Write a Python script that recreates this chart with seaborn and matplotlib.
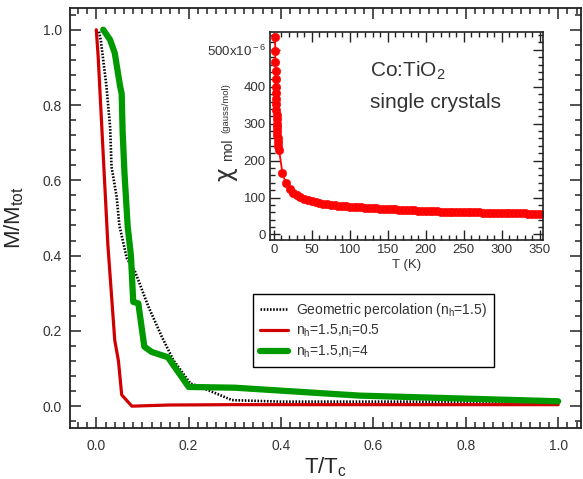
import numpy as np
import matplotlib
matplotlib.use("Agg")
import matplotlib.pyplot as plt
from matplotlib.ticker import MultipleLocator, FixedLocator, FixedFormatter
import seaborn as sns

sns.set_style("ticks")
plt.rcParams['font.family'] = ['Liberation Sans', 'DejaVu Sans']
plt.rcParams['mathtext.fontset'] = 'custom'
plt.rcParams['mathtext.rm'] = 'Liberation Sans'
plt.rcParams['mathtext.it'] = 'Liberation Sans:italic'

# main panel: M/Mtot vs T/Tc
geo_x = [0.006, 0.010, 0.022, 0.030, 0.033, 0.044, 0.050, 0.062, 0.066, 0.084,
         0.113, 0.142, 0.167, 0.204, 0.222, 0.294, 0.40, 1.0]
geo_y = [0.995, 0.97, 0.85, 0.74, 0.636, 0.557, 0.48, 0.415, 0.393, 0.357,
         0.264, 0.184, 0.122, 0.060, 0.053, 0.016, 0.012, 0.012]

red_x = [0.0, 0.004, 0.012, 0.025, 0.040, 0.048, 0.055, 0.077, 0.157, 0.30, 0.50, 1.0]
red_y = [1.0, 0.93, 0.74, 0.43, 0.175, 0.12, 0.03, 0.0, 0.003, 0.004, 0.004, 0.004]

green_x = [0.015, 0.030, 0.040, 0.0515, 0.055, 0.057, 0.061, 0.068, 0.075, 0.080,
           0.091, 0.104, 0.120, 0.155, 0.200, 0.300, 0.570, 1.0]
green_y = [1.0, 0.973, 0.938, 0.85, 0.83, 0.73, 0.62, 0.477, 0.40, 0.277,
           0.273, 0.158, 0.144, 0.130, 0.051, 0.049, 0.028, 0.013]

# inset: chi_mol (x1e-6 gauss/mol) vs T (K)
chi_T = [1.8, 2.0, 2.2, 2.4, 2.6, 2.8, 3.0, 3.2, 3.4, 3.6, 3.8, 4.0, 4.2, 4.4, 4.6,
         4.8, 5.0, 5.5, 6.0, 7.0, 11.4, 15.8, 21,
         25, 30, 35, 40, 45, 50, 55, 60, 65, 70, 75, 80, 85, 90, 95, 100,
         105, 110, 115, 120, 125, 130, 135, 140, 145, 150, 155, 160, 165, 170,
         175, 180, 185, 190, 195, 200, 205, 210, 215, 220, 225, 230, 235, 240,
         245, 250, 255, 260, 265, 270, 275, 280, 285, 290, 295, 300, 305, 310,
         315, 320, 325, 330, 335, 340, 345, 350]
chi_val = [535, 498, 466, 443, 420, 400, 382, 367, 353, 337, 324, 312, 300, 290, 280,
           270, 260, 250, 240, 229, 167, 139, 122,
           113, 106, 101, 96, 92, 90, 87.5, 85.5, 83.5, 82, 80.5, 79, 78, 77, 76, 75.5,
           74.5, 73.5, 73, 72.5, 72, 71, 70.5, 70, 69.5, 69, 68.5, 68, 67.5, 67,
           66, 65.5, 65, 64.5, 64, 63.5, 63, 62.5, 62.5, 62, 62, 61.5, 61, 61,
           60.5, 60.5, 60, 60, 59.5, 59.5, 59, 59, 59, 58.5, 58.5, 58, 58, 57.5,
           57.5, 57.5, 57, 57, 56.5, 56.5, 56, 56]

fig = plt.figure(figsize=(5.83, 4.79), dpi=100)
ax = fig.add_axes([0.120, 0.1065, 0.877, 0.877])

sns.lineplot(x=geo_x, y=geo_y, ax=ax, color='black', lw=1.9,
             linestyle=(0, (0.6, 0.6)), label='Geometric percolation (n$_{\\rm h}$=1.5)')
sns.lineplot(x=red_x, y=red_y, ax=ax, color='#d00000', lw=2.3,
             label='n$_{\\rm h}$=1.5,n$_{\\rm i}$=0.5')
sns.lineplot(x=green_x, y=green_y, ax=ax, color='#009a00', lw=4.5,
             label='n$_{\\rm h}$=1.5,n$_{\\rm i}$=4')

ax.set_xlim(-0.057, 1.05)
ax.set_ylim(-0.058, 1.058)
ax.xaxis.set_major_locator(MultipleLocator(0.2))
ax.xaxis.set_minor_locator(MultipleLocator(0.02))
ax.yaxis.set_major_locator(MultipleLocator(0.2))
ax.yaxis.set_minor_locator(MultipleLocator(0.04))
ax.xaxis.set_major_formatter(plt.FormatStrFormatter('%.1f'))
ax.yaxis.set_major_formatter(plt.FormatStrFormatter('%.1f'))
ax.tick_params(which='both', direction='in', top=True, right=True, color='#222222', width=1.1)
ax.tick_params(which='major', length=8, labelsize=10, labelcolor='#333333')
ax.tick_params(which='minor', length=4)
ax.tick_params(axis='x', which='major', pad=8)
ax.tick_params(axis='y', which='major', pad=6)
for s in ax.spines.values():
    s.set_linewidth(1.3)
    s.set_color('#222222')
ax.set_xlabel('T/T$_{\\rm c}$', fontsize=16, labelpad=2)
ax.set_ylabel('M/M$_{\\rm tot}$', fontsize=16, labelpad=12)

leg = ax.legend(loc='upper left', bbox_to_anchor=(0.358, 0.319), borderaxespad=0,
                fontsize=10, frameon=True, fancybox=False, framealpha=1,
                edgecolor='black', handlelength=2.0, handletextpad=0.6,
                labelspacing=0.3, borderpad=0.5)
leg.get_frame().set_linewidth(1.0)
for t in leg.get_texts():
    t.set_color('#333333')

# inset
ins = fig.add_axes([0.463, 0.499, 0.468, 0.434])
sns.lineplot(x=chi_T, y=chi_val, ax=ins, color='#ff0000', lw=1.3, marker='o',
             markersize=6, markeredgecolor='#ff1010', markeredgewidth=0.5)
ins.set_xlim(-5, 354)
ins.set_ylim(-15, 548)
ins.xaxis.set_major_locator(MultipleLocator(50))
ins.xaxis.set_minor_locator(MultipleLocator(10))
ins.yaxis.set_major_locator(FixedLocator([0, 100, 200, 300, 400, 500]))
ins.yaxis.set_major_formatter(FixedFormatter(['0', '100', '200', '300', '400',
                                              '500x10$^{\\rm -6}$']))
ins.yaxis.set_minor_locator(MultipleLocator(20))
ins.tick_params(which='both', direction='in', top=True, right=True, color='#222222', width=1.0)
ins.tick_params(which='major', length=7, labelsize=9.5, labelcolor='#333333', pad=3)
ins.tick_params(which='minor', length=3.5)
for s in ins.spines.values():
    s.set_linewidth(1.2)
    s.set_color('#222222')
ins.set_xlabel('T (K)', fontsize=9.5, labelpad=2, color='#333333')
ins.set_ylabel('')
ins.text(-0.165, 0.318, 'χ', transform=ins.transAxes, rotation=90, fontsize=17,
         family='DejaVu Sans', ha='center', va='center', color='#333333')
ins.text(-0.152, 0.435, 'mol', transform=ins.transAxes, rotation=90, fontsize=10,
         ha='center', va='center', color='#333333')
ins.text(-0.160, 0.635, '(gauss/mol)', transform=ins.transAxes, rotation=90, fontsize=6.8,
         ha='center', va='center', color='#333333')
ins.text(0.366, 0.785, 'Co:TiO$_{\\rm 2}$', transform=ins.transAxes, fontsize=15,
         va='baseline', ha='left', color='#333333')
ins.text(0.366, 0.635, 'single crystals', transform=ins.transAxes, fontsize=15,
         va='baseline', ha='left', color='#333333')

fig.savefig('out.png', dpi=100)
